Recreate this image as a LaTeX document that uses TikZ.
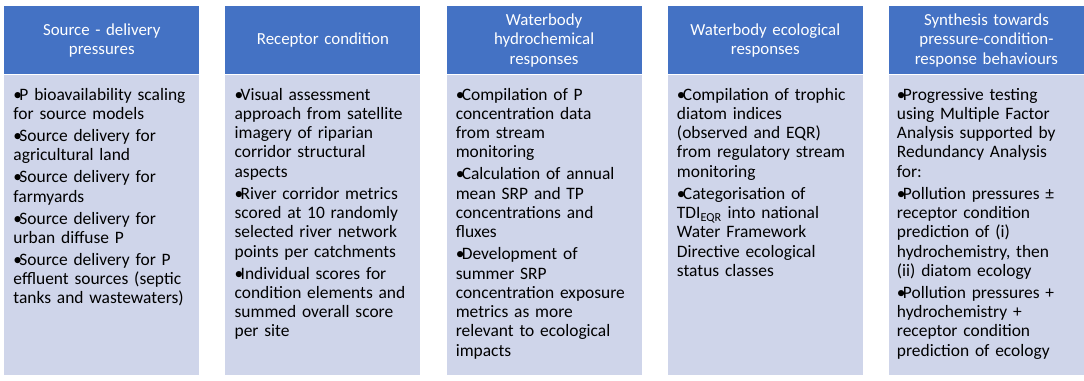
\documentclass[tikz,border=0pt]{standalone}
\usepackage{fontspec}
\setmainfont{Carlito}
\usetikzlibrary{positioning}
\definecolor{headblue}{HTML}{4472C4}
\definecolor{bodyblue}{HTML}{CFD5EA}
\newcommand{\itm}{\par\noindent\hangindent=0.15cm\hangafter=1\makebox[0.15cm][l]{\textbullet}}

\begin{document}
\begin{tikzpicture}[
        node distance=0.64cm,
        font=\fontsize{12.4}{13.7}\selectfont,
        % Define styles for the columns
        header/.style={rectangle, fill=headblue, text=white, minimum width=4.875cm, minimum height=1.7cm, text width=4.7cm, align=center, inner sep=0pt, font=\fontsize{12}{13.7}\selectfont},
        body/.style={rectangle, fill=bodyblue, minimum width=4.875cm, minimum height=7.5cm, inner sep=0pt},
        items/.style={text width=4.7cm, align=left, inner sep=0pt, execute at begin node=\setlength{\parskip}{2pt}}
    ]
        \useasboundingbox (0,0) rectangle (27.1,-9.525);

        % --- Headers ---
        \node[header, anchor=north west] (source) at (0.1,-0.15) {Source - delivery\\pressures};
        \node[header, right=of source] (receptor) {Receptor condition};
        \node[header, right=of receptor] (hydro) {Waterbody\\hydrochemical\\responses};
        \node[header, right=of hydro] (eco) {Waterbody ecological\\responses};
        \node[header, right=of eco] (synth) {Synthesis towards\\pressure-condition-\\response behaviours};

        % --- Bodies ---
        \node[body, below=0pt of source] (sourcebody) {};
        \node[body, below=0pt of receptor] (receptorbody) {};
        \node[body, below=0pt of hydro] (hydrobody) {};
        \node[body, below=0pt of eco] (ecobody) {};
        \node[body, below=0pt of synth] (synthbody) {};

        % --- Bullet texts ---
        \node[items, below right=0.08cm and 0.23cm of sourcebody.north west] (sourcetext) {%
            \itm P bioavailability scaling\\for source models
            \itm Source delivery for\\agricultural land
            \itm Source delivery for\\farmyards
            \itm Source delivery for\\urban diffuse P
            \itm Source delivery for P\\effluent sources (septic\\tanks and wastewaters)};
        \node[items, below right=0.08cm and 0.23cm of receptorbody.north west] (receptortext) {%
            \itm Visual assessment\\approach from satellite\\imagery of riparian\\corridor structural\\aspects
            \itm River corridor metrics\\scored at 10 randomly\\selected river network\\points per catchments
            \itm Individual scores for\\condition elements and\\summed overall score\\per site};
        \node[items, below right=0.08cm and 0.23cm of hydrobody.north west] (hydrotext) {%
            \itm Compilation of P\\concentration data\\from stream\\monitoring
            \itm Calculation of annual\\mean SRP and TP\\concentrations and\\fluxes
            \itm Development of\\summer SRP\\concentration exposure\\metrics as more\\relevant to ecological\\impacts};
        \node[items, below right=0.08cm and 0.23cm of ecobody.north west] (ecotext) {%
            \itm Compilation of trophic\\diatom indices\\(observed and EQR)\\from regulatory stream\\monitoring
            \itm Categorisation of\\TDI\textsubscript{EQR} into national\\Water Framework\\Directive ecological\\status classes};
        \node[items, below right=0.08cm and 0.2cm of synthbody.north west] (synthtext) {%
            \itm Progressive testing\\using Multiple Factor\\Analysis supported by\\Redundancy Analysis\\for:
            \itm Pollution pressures ±\\receptor condition\\prediction of (i)\\hydrochemistry, then\\(ii) diatom ecology
            \itm Pollution pressures +\\hydrochemistry +\\receptor condition\\prediction of ecology};

    \end{tikzpicture}
\end{document}
